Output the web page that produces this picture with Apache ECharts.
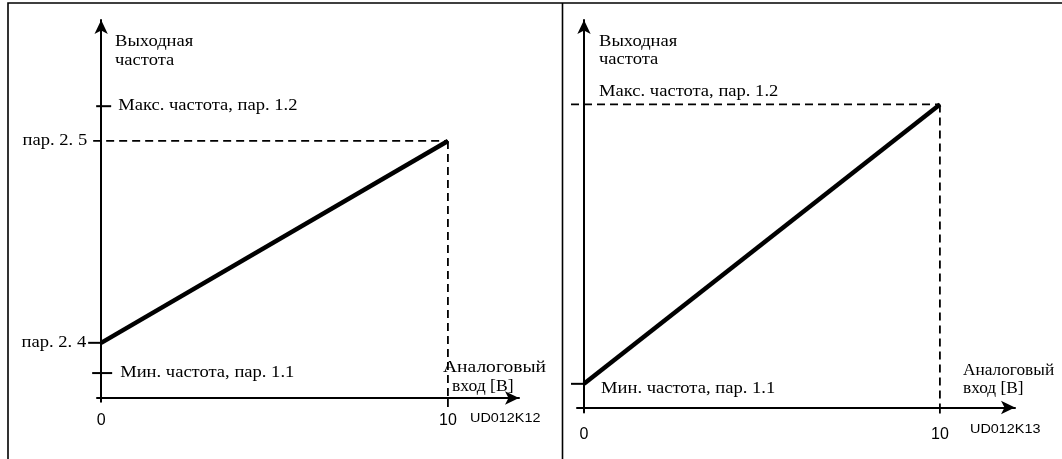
<!DOCTYPE html>
<html><head><meta charset="utf-8">
<script src="https://cdn.jsdelivr.net/npm/echarts@6/dist/echarts.min.js"></script>
<style>html,body{margin:0;padding:0;background:#fff}#c{width:1062px;height:459px}</style>
</head><body><div id="c"></div>
<script>
// ---------- data ----------
const xTickValues = [0, 10];
const xTickLabels = ['0', '10'];
const xAxisTitle = ['Аналоговый', 'вход [В]'];
const yAxisTitle = ['Выходная', 'частота'];

// left panel: scaled input (par. 2.4 .. par. 2.5)
const leftLineX = [0, 10];
const leftLineY = [14.6, 68.0];
const leftYTickValues = [77.2, 68.0, 14.6, 6.6];
const leftYTickLabels = ['Макс. частота, пар. 1.2', 'пар. 2. 5', 'пар. 2. 4', 'Мин. частота, пар. 1.1'];
const leftCode = 'UD012K12';

// right panel: unscaled input (min .. max frequency)
const rightLineX = [0, 10];
const rightLineY = [6.1, 78.2];
const rightYTickValues = [78.2, 6.1];
const rightYTickLabels = ['Макс. частота, пар. 1.2', 'Мин. частота, пар. 1.1'];
const rightCode = 'UD012K13';

// ---------- styling (pixel offsets from the axis) ----------
const SERIF = '"Liberation Serif", "Times New Roman", serif';
const SANS = '"Liberation Sans", Arial, sans-serif';
const TXT_SIZE = 16, TXT_SX = 1.16;
const leftTickStyle = [
  {t0: -5, t1: 10, dx: 17, dy: 0, align: 'left'},
  {t0: 0, t1: 0, dx: -14, dy: 0, align: 'right'},
  {t0: -13, t1: 0, dx: -15, dy: 0, align: 'right'},
  {t0: -9, t1: 11, dx: 19, dy: 0, align: 'left'}
];
const rightTickStyle = [
  {t0: 0, t1: 0, dx: 15, dy: -13, align: 'left'},
  {t0: -13, t1: 0, dx: 17, dy: 5, align: 'left'}
];

function tickSeries(idx, values, labels, styles) {
  return {
    type: 'custom', xAxisIndex: idx, yAxisIndex: idx, silent: true, clip: false, z: 5,
    data: values.map((v, i) => [0, v, i]),
    renderItem: function (params, api) {
      const i = api.value(2);
      const p = api.coord([0, api.value(1)]);
      const st = styles[i];
      const ch = [];
      if (st.t0 !== st.t1) {
        ch.push({type: 'line', shape: {x1: p[0] + st.t0, y1: p[1], x2: p[0] + st.t1, y2: p[1]},
          style: {stroke: '#000', lineWidth: 2}});
      }
      ch.push({type: 'text', x: p[0] + st.dx, y: p[1] + st.dy, scaleX: TXT_SX,
        style: {text: labels[i], x: 0, y: 0,
        align: st.align, verticalAlign: 'middle', font: TXT_SIZE + 'px ' + SERIF, fill: '#000'}});
      return {type: 'group', children: ch};
    }
  };
}

function guideSeries(idx, lx, ly, startOff, below) {
  return {
    type: 'custom', xAxisIndex: idx, yAxisIndex: idx, silent: true, clip: false, z: 4,
    data: [[lx[1], ly[1]]],
    renderItem: function (params, api) {
      const p = api.coord([api.value(0), api.value(1)]);
      const o = api.coord([0, 0]);
      const ds = {stroke: '#000', lineWidth: 1.8, lineDash: [8, 5]};
      return {type: 'group', children: [
        {type: 'line', shape: {x1: o[0] + startOff, y1: p[1], x2: p[0], y2: p[1]}, style: ds},
        {type: 'line', shape: {x1: p[0], y1: p[1], x2: p[0], y2: o[1]}, style: ds},
        {type: 'line', shape: {x1: p[0], y1: o[1], x2: p[0], y2: o[1] + below}, style: {stroke: '#000', lineWidth: 1.8}}
      ]};
    }
  };
}

function xAxisDef(idx, min, max, margin) {
  return {
    type: 'value', gridIndex: idx, min: min, max: max,
    axisLine: {show: true, onZero: true, symbol: ['none', 'arrow'], symbolSize: [10, 14],
      lineStyle: {color: '#000', width: 2}},
    axisTick: {show: false},
    splitLine: {show: false},
    axisLabel: {show: true, customValues: xTickValues, margin: margin, color: '#000',
      fontFamily: SANS, fontSize: 16, formatter: v => xTickLabels[xTickValues.indexOf(v)]}
  };
}
function yAxisDef(idx, min) {
  return {
    type: 'value', gridIndex: idx, min: min, max: 100,
    axisLine: {show: true, onZero: true, symbol: ['none', 'arrow'], symbolSize: [10, 14],
      lineStyle: {color: '#000', width: 2}},
    axisTick: {show: false}, axisLabel: {show: false}, splitLine: {show: false}
  };
}

function textBlock(x, yCenter1, lines, size, font, lh, sx) {
  return {type: 'text', x: x, y: yCenter1 - lh / 2, scaleX: sx, silent: true,
    style: {text: lines.join('\n'), x: 0, y: 0, font: size + 'px ' + font, fill: '#000', lineHeight: lh}};
}

const chart = echarts.init(document.getElementById('c'), null, {renderer: 'canvas'});
chart.setOption({
  animation: false,
  backgroundColor: '#fff',
  grid: [
    {left: 97, top: 20, width: 422, height: 381.8},
    {left: 577, top: 20, width: 438, height: 392.5}
  ],
  xAxis: [xAxisDef(0, -0.12, 12.05, 11), xAxisDef(1, -0.197, 12.11, 14)],
  yAxis: [yAxisDef(0, -1), yAxisDef(1, -1.3)],
  graphic: [
    {type: 'rect', shape: {x: 8, y: 3, width: 1060, height: 470}, style: {fill: 'none', stroke: '#000', lineWidth: 1.6}, silent: true},
    {type: 'line', shape: {x1: 562.5, y1: 3, x2: 562.5, y2: 459}, style: {stroke: '#000', lineWidth: 1.6}, silent: true},
    textBlock(115, 42, yAxisTitle, TXT_SIZE, SERIF, 19, TXT_SX),
    textBlock(599, 42, yAxisTitle, TXT_SIZE, SERIF, 18, TXT_SX),
    textBlock(443, 368, [xAxisTitle[0]], TXT_SIZE, SERIF, 19, 1.22),
    textBlock(452, 387, [xAxisTitle[1]], TXT_SIZE, SERIF, 19, 1.1),
    textBlock(963, 371, xAxisTitle, TXT_SIZE, SERIF, 18, 1.08),
    textBlock(470, 419, [leftCode], 12, SANS, 14, 1.2),
    textBlock(970, 430, [rightCode], 12, SANS, 14, 1.2)
  ],
  series: [
    guideSeries(0, leftLineX, leftLineY, -8, 9),
    tickSeries(0, leftYTickValues, leftYTickLabels, leftTickStyle),
    {type: 'line', xAxisIndex: 0, yAxisIndex: 0, silent: true, showSymbol: false, z: 6,
      data: leftLineX.map((x, i) => [x, leftLineY[i]]), lineStyle: {color: '#000', width: 4.5}},
    guideSeries(1, rightLineX, rightLineY, -13, 6),
    tickSeries(1, rightYTickValues, rightYTickLabels, rightTickStyle),
    {type: 'line', xAxisIndex: 1, yAxisIndex: 1, silent: true, showSymbol: false, z: 6,
      data: rightLineX.map((x, i) => [x, rightLineY[i]]), lineStyle: {color: '#000', width: 4.5}}
  ]
});
</script>
</body></html>
